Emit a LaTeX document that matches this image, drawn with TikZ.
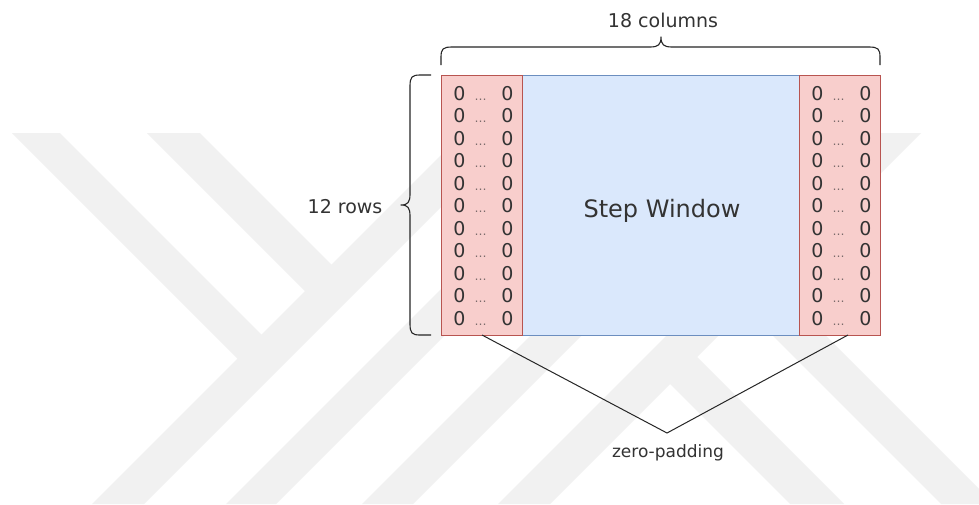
\documentclass[tikz,border=0pt]{standalone}
\usepackage{fontspec}
\setmainfont{DejaVu Sans}
\usetikzlibrary{calc}
\definecolor{wm}{HTML}{F1F1F1}
\definecolor{winfill}{HTML}{DAE8FC}
\definecolor{winline}{HTML}{6C8EBF}
\definecolor{padfill}{HTML}{F8CECC}
\definecolor{padline}{HTML}{B85450}
\definecolor{ink}{HTML}{333333}
\definecolor{dotc}{HTML}{7A6A6A}
\tikzset{
  wmark/.style={fill=wm, draw=none},
  winbox/.style={draw=winline, fill=winfill, line width=1pt, inner sep=0pt, outer sep=0pt,
    minimum width=439pt, minimum height=260pt},
  padbox/.style={draw=padline, fill=padfill, line width=1pt, inner sep=0pt, outer sep=0pt,
    minimum width=81pt, minimum height=260pt},
  lbl/.style={text=ink, inner sep=0pt, anchor=base},
  zero/.style={text=ink, inner sep=0pt, anchor=base, font=\fontsize{19}{22}\selectfont},
  dots/.style={text=dotc, inner sep=0pt, anchor=base, font=\fontsize{12}{14}\selectfont},
  bracepath/.style={draw=black!85, line width=1.1pt, line join=round},
  conn/.style={draw=black!85, line width=1pt, line join=miter},
}
\begin{document}
\begin{tikzpicture}[x=1pt, y=-1pt]
\useasboundingbox[fill=white] (0,0) rectangle (979,504);
% watermark
\fill[wmark] (463,133) -- (515,133) -- (144,504) -- (92,504) -- cycle;
\fill[wmark] (597,133) -- (647,133) -- (276,504) -- (226,504) -- cycle;
\fill[wmark] (733,133) -- (784,133) -- (413,504) -- (362,504) -- cycle;
\fill[wmark] (869,133) -- (921,133) -- (550,504) -- (498,504) -- cycle;
\fill[wmark] (12,133) -- (60,133) -- (274.5,347.5) -- (250.5,371.5) -- cycle;
\fill[wmark] (147,133) -- (200,133) -- (344.5,277.5) -- (318,304) -- cycle;
\fill[wmark] (657,371) -- (684,344) -- (844,504) -- (790,504) -- cycle;
\fill[wmark] (732.5,295.5) -- (759,269) -- (994,504) -- (941,504) -- cycle;
% boxes
\node[winbox, anchor=north west] (win) at (441,75) {};
\node[padbox, anchor=north west] (padL) at (441,75) {};
\node[padbox, anchor=north east] (padR) at (880,75) {};
\node[lbl, font=\fontsize{24}{28}\selectfont] (sw) at (662,217) {Step Window};
% rows of zeros
\foreach \i in {0,...,10}{
  \pgfmathsetmacro{\yy}{100+22.5*\i}
  \node[zero] (La\i) at (459.5,\yy) {0};
  \node[dots] (Lb\i) at (480.5,\yy) {…};
  \node[zero] (Lc\i) at (507.5,\yy) {0};
  \node[zero] (Ra\i) at (817.5,\yy) {0};
  \node[dots] (Rb\i) at (838.5,\yy) {…};
  \node[zero] (Rc\i) at (865.5,\yy) {0};
}
% braces
\draw[bracepath] (441,65) -- (441,57) .. controls (441,49) and (443,47) .. (452,47)
  -- (650,47) .. controls (658,47) and (661,45) .. (661,37)
  .. controls (661,45) and (664,47) .. (672,47)
  -- (869,47) .. controls (878,47) and (880,49) .. (880,57) -- (880,65);
\draw[bracepath] (431,75) -- (420,75) .. controls (412,75) and (410,77) .. (410,86)
  -- (410,194) .. controls (410,202) and (408,205) .. (401,205)
  .. controls (408,205) and (410,208) .. (410,216)
  -- (410,324) .. controls (410,333) and (412,335) .. (420,335) -- (431,335);
% labels
\node[lbl, font=\fontsize{19}{22}\selectfont] (cols) at (663,27) {18 columns};
\node[lbl, font=\fontsize{19}{22}\selectfont] (rows) at (345,213) {12 rows};
\node[lbl, font=\fontsize{17}{20}\selectfont] (zp) at (668,457) {zero-padding};
% connector
\coordinate (apex) at (667,433);
\draw[conn] ($(padL.south)+(0.5,0)$) -- (apex) -- ($(padR.south)+(8.5,0)$);
\end{tikzpicture}
\end{document}
